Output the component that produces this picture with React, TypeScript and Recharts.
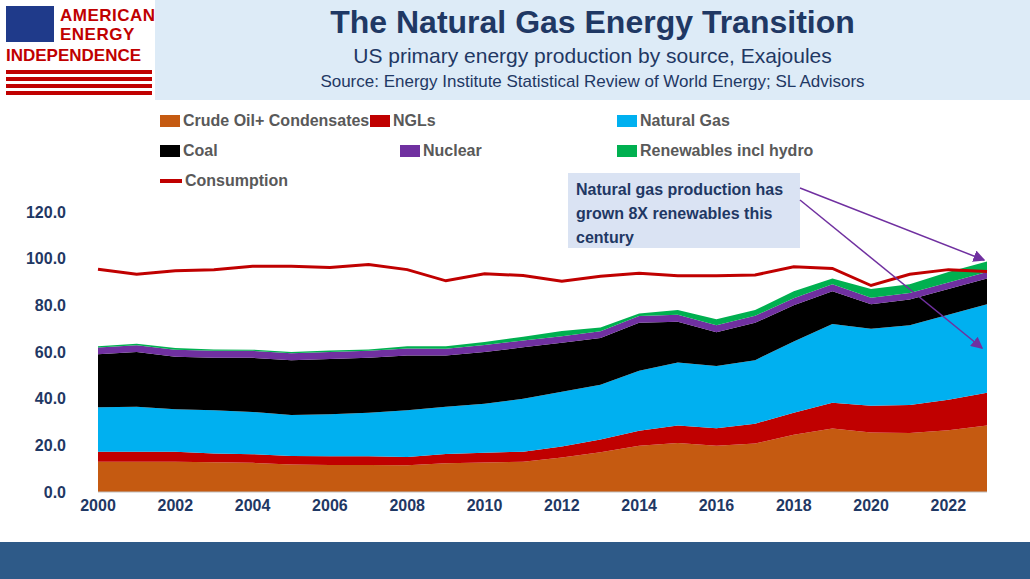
import React from "react";
import { ComposedChart, Area, Line, XAxis, YAxis } from "recharts";

const years = [2000,2001,2002,2003,2004,2005,2006,2007,2008,2009,2010,2011,2012,2013,2014,2015,2016,2017,2018,2019,2020,2021,2022,2023];
const crude = [13.0,13.0,13.0,12.8,12.5,11.8,11.6,11.6,11.5,12.3,12.6,13.0,14.8,17.0,19.8,21.0,19.8,20.8,24.5,27.2,25.5,25.3,26.5,28.5];
const ngl = [4.3,4.3,4.2,3.7,3.7,3.6,3.7,3.7,3.5,4.0,4.2,4.3,4.7,5.5,6.5,7.5,7.5,8.5,9.5,11,11.5,12,13,14];
const gas = [19,19.2,18.3,18.5,18.1,17.6,18,18.7,20,20.2,21,22.7,23.5,23.5,25.7,27,26.7,27.2,30.5,33.8,33,34.2,36.5,38];
const coal = [22.7,23.5,22.5,22.5,23.2,23.5,23.7,23.5,23.5,22,22.2,22,21,20,20.5,17.5,14.5,16,15.5,14,10.5,11,11,11];
const nuclear = [2.9,2.9,3,3,3,3,3,3,3,2.9,3,2.9,2.8,2.9,2.9,3,3,3,3,3,2.8,2.8,2.8,2.8];
const renew = [0.6,0.6,0.7,0.6,0.5,0.5,0.6,0.6,1,1.1,1.3,1.6,2.2,1.6,1.1,2,2.5,2.5,3,2.5,3.7,3.7,4.5,4.5];
const consumption = [95.5,93.3,94.8,95.2,96.8,96.8,96.2,97.5,95.3,90.5,93.5,92.8,90.3,92.5,93.8,92.7,92.7,93,96.5,95.8,88.5,93.3,95.3,94.5];
const yTicks = [0,20,40,60,80,100,120];
const xTicks = [2000,2002,2004,2006,2008,2010,2012,2014,2016,2018,2020,2022];

const data = years.map((y, i) => ({ year: y, crude: crude[i], ngl: ngl[i], gas: gas[i], coal: coal[i], nuclear: nuclear[i], renew: renew[i], consumption: consumption[i] }));

const C = { crude: "#C55A11", ngl: "#C00000", gas: "#00B0F0", coal: "#000000", nuclear: "#7030A0", renew: "#00B050" };
const font = "'Liberation Sans', Arial, sans-serif";

const Leg = ({ x, y, color, label, line }: any) => (
  <div style={{ position: "absolute", left: x, top: y, display: "flex", alignItems: "center", fontWeight: "bold", fontSize: 16, color: "#595959", whiteSpace: "nowrap" }}>
    <div style={{ width: line ? 22 : 20, height: line ? 4 : 12, background: color, marginRight: 3 }} />
    {label}
  </div>
);

export default function App() {
  return (
    <div style={{ position: "fixed", left: 0, top: 0, width: 1030, height: 579, background: "#fff", fontFamily: font, overflow: "hidden" }}>
      <div style={{ position: "absolute", left: 155, top: 0, width: 875, height: 100, background: "#DDEBF7" }} />
      <div style={{ position: "absolute", left: 155, top: 4, width: 875, textAlign: "center", fontSize: 32, fontWeight: "bold", color: "#1F3864" }}>The Natural Gas Energy Transition</div>
      <div style={{ position: "absolute", left: 155, top: 44, width: 875, textAlign: "center", fontSize: 21, color: "#1F3864" }}>US primary energy production by source, Exajoules</div>
      <div style={{ position: "absolute", left: 155, top: 72, width: 875, textAlign: "center", fontSize: 17, color: "#1F3864" }}>Source: Energy Institute Statistical Review of World Energy; SL Advisors</div>
      {/* logo */}
      <div style={{ position: "absolute", left: 6, top: 6, width: 48, height: 36, background: "#1F3A8A" }} />
      {[0,1,2,3].map(i => <div key={i} style={{ position: "absolute", left: 6, top: 70 + i * 7, width: 146, height: 4, background: "#C00000" }} />)}
      <div style={{ position: "absolute", left: 60, top: 6, fontSize: 17, fontWeight: "bold", color: "#C00000", lineHeight: "19px", letterSpacing: 0.5 }}>AMERICAN<br />ENERGY</div>
      <div style={{ position: "absolute", left: 6, top: 46, fontSize: 17, fontWeight: "bold", color: "#C00000" }}>INDEPENDENCE</div>

      <Leg x={160} y={112} color={C.crude} label="Crude Oil+ Condensates" />
      <Leg x={370} y={112} color={C.ngl} label="NGLs" />
      <Leg x={617} y={112} color={C.gas} label="Natural Gas" />
      <Leg x={160} y={142} color={C.coal} label="Coal" />
      <Leg x={400} y={142} color={C.nuclear} label="Nuclear" />
      <Leg x={617} y={142} color={C.renew} label="Renewables incl hydro" />
      <Leg x={160} y={172} color={C.ngl} label="Consumption" line />

      <div style={{ position: "absolute", left: 0, top: 0 }}>
        <ComposedChart width={1030} height={579} data={data} margin={{ top: 212, right: 43, left: 38, bottom: 57 }}>
          <XAxis dataKey="year" ticks={xTicks} interval={0} tickLine={false} height={30} axisLine={{ stroke: "#BFBFBF" }} tick={{ fontSize: 16, fontWeight: "bold", fill: "#1F3864" }} />
          <YAxis domain={[0, 120]} ticks={yTicks} width={60} axisLine={false} tickLine={false} tickFormatter={(v: number) => v.toFixed(1)} tick={{ fontSize: 16, fontWeight: "bold", fill: "#1F3864", dx: -24 }} />
          <Area dataKey="crude" stackId="a" type="linear" fill={C.crude} stroke="none" fillOpacity={1} isAnimationActive={false} />
          <Area dataKey="ngl" stackId="a" type="linear" fill={C.ngl} stroke="none" fillOpacity={1} isAnimationActive={false} />
          <Area dataKey="gas" stackId="a" type="linear" fill={C.gas} stroke="none" fillOpacity={1} isAnimationActive={false} />
          <Area dataKey="coal" stackId="a" type="linear" fill={C.coal} stroke="none" fillOpacity={1} isAnimationActive={false} />
          <Area dataKey="nuclear" stackId="a" type="linear" fill={C.nuclear} stroke="none" fillOpacity={1} isAnimationActive={false} />
          <Area dataKey="renew" stackId="a" type="linear" fill={C.renew} stroke="none" fillOpacity={1} isAnimationActive={false} />
          <Line dataKey="consumption" type="linear" stroke="#C00000" strokeWidth={3} dot={false} isAnimationActive={false} />
        </ComposedChart>
      </div>

      <div style={{ position: "absolute", left: 568, top: 173, width: 232, height: 75, background: "#DAE3F3", boxSizing: "border-box", padding: "5px 8px", fontSize: 16, fontWeight: "bold", color: "#1F3864", lineHeight: "24px" }}>
        Natural gas production has grown 8X renewables this century
      </div>
      <svg style={{ position: "absolute", left: 0, top: 0 }} width={1030} height={579}>
        <defs>
          <marker id="ah" markerWidth="8" markerHeight="8" refX="7" refY="4" orient="auto">
            <path d="M0,0 L8,4 L0,8 z" fill="#7030A0" />
          </marker>
        </defs>
        <line x1={800} y1={188} x2={984} y2={260} stroke="#7030A0" strokeWidth={1.5} markerEnd="url(#ah)" />
        <line x1={800} y1={200} x2={982} y2={348} stroke="#7030A0" strokeWidth={1.5} markerEnd="url(#ah)" />
      </svg>

      <div style={{ position: "absolute", left: 0, top: 542, width: 1030, height: 37, background: "#2E5A88" }} />
    </div>
  );
}
